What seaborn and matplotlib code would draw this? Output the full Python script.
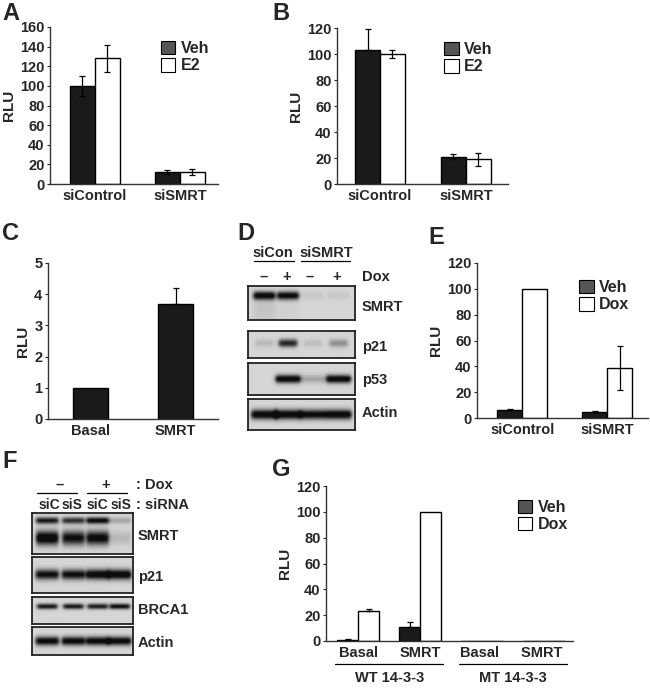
import numpy as np
import pandas as pd
import matplotlib
matplotlib.use("Agg")
import matplotlib.pyplot as plt
from matplotlib.patches import Patch
import seaborn as sns

sns.set_theme(style="ticks")
plt.rcParams["font.family"] = ["Liberation Sans", "DejaVu Sans"]
plt.rcParams["font.weight"] = "bold"
plt.rcParams["axes.labelweight"] = "bold"

# ---- data ----
a_groups = ["siControl", "siSMRT"]
a_veh = [100, 12]
a_e2 = [128, 12]
a_veh_err = [10, 2]
a_e2_err = [14, 3]

b_groups = ["siControl", "siSMRT"]
b_veh = [103, 21]
b_e2 = [100, 19]
b_veh_err = [16, 2]
b_e2_err = [3, 5]

c_groups = ["Basal", "SMRT"]
c_vals = [1.0, 3.7]
c_err = [0, 0.5]

e_groups = ["siControl", "siSMRT"]
e_veh = [6, 5]
e_dox = [100, 39]
e_veh_err = [1.2, 0.5]
e_dox_err = [0, 17]

g_groups = ["Basal", "SMRT", "Basal ", "SMRT "]
g_veh = [1, 11, 0.3, 0.3]
g_dox = [23, 100, 0.3, 0.3]
g_veh_err = [0.3, 4, 0, 0]
g_dox_err = [2, 0, 0, 0]

# blot band intensities per lane (0 = none, 1 = saturated)
d_smrt = [0.95, 0.9, 0.06, 0.06]
d_p21 = [0.12, 0.75, 0.1, 0.3]
d_p53 = [0.0, 0.95, 0.2, 0.95]
d_actin = [0.95, 0.95, 0.9, 0.95]
f_smrt_upper = [0.8, 0.7, 0.9, 0.2]
f_smrt_lower = [1.0, 0.85, 0.9, 0.12]
f_p21 = [0.85, 0.85, 0.95, 0.95]
f_brca1 = [0.8, 0.8, 0.78, 0.85]
f_actin = [0.9, 0.9, 0.9, 0.9]

W, H = 650, 689
FS = 10.5
fig = plt.figure(figsize=(6.5, 6.89), dpi=100)


def add_ax(x0, x1, y0, y1):
    return fig.add_axes([x0 / W, 1 - y1 / H, (x1 - x0) / W, (y1 - y0) / H])


def bar_panel(ax, groups, series, names, colors, errs, width, ylim, step, xlim,
              ylabel="RLU", upper_only=None):
    rows = []
    for name, vals in zip(names, series):
        for g, v in zip(groups, vals):
            rows.append({"group": g, "cond": name, "value": v})
    df = pd.DataFrame(rows)
    sns.barplot(data=df, x="group", y="value", hue="cond", order=groups,
                hue_order=names, palette=dict(zip(names, colors)),
                edgecolor="black", linewidth=1.0, width=width, errorbar=None,
                legend=False, ax=ax, saturation=1)
    bar_sets = list(ax.containers)
    for i, cont in enumerate(bar_sets):
        for j, bar in enumerate(cont):
            e = errs[i][j]
            if e <= 0:
                continue
            xc = bar.get_x() + bar.get_width() / 2
            h = bar.get_height()
            lo = 0 if (upper_only and upper_only[i][j]) else e
            ax.errorbar(xc, h, yerr=[[lo], [e]], fmt="none", ecolor="black",
                        elinewidth=0.9, capsize=2.5, capthick=0.9)
    style_ax(ax, ylim, step, xlim, ylabel)


def style_ax(ax, ylim, step, xlim, ylabel):
    ax.set_ylim(*ylim)
    ax.set_yticks(np.arange(ylim[0], ylim[1] + step / 2, step))
    ax.set_xlim(*xlim)
    ax.set_xlabel("")
    ax.set_ylabel(ylabel, fontsize=FS + 0.5, fontweight="bold", labelpad=3)
    sns.despine(ax=ax)
    ax.spines["left"].set_linewidth(1.0)
    ax.spines["bottom"].set_linewidth(1.0)
    ax.spines["left"].set_color("#333333")
    ax.spines["bottom"].set_color("#333333")
    ax.tick_params(axis="y", length=2.5, width=0.8, labelsize=FS, pad=1.5)
    ax.tick_params(axis="x", length=0, labelsize=FS, pad=3.5)
    for t in ax.get_yticklabels() + ax.get_xticklabels():
        t.set_fontweight("bold")


def legend(ax, names, x, y):
    handles = [Patch(facecolor="#555555", edgecolor="black", linewidth=0.8),
               Patch(facecolor="white", edgecolor="black", linewidth=0.8)]
    lg = ax.legend(handles, names, loc="upper left", bbox_to_anchor=(x, y),
                   frameon=False, handlelength=0.9, handleheight=0.9,
                   handletextpad=0.35, labelspacing=0.12, borderaxespad=0,
                   prop={"size": FS + 1, "weight": "bold"})
    return lg


def letter(x, y, s):
    fig.text(x / W, 1 - y / H, s, fontsize=17, fontweight="bold", va="center", ha="left")


BLACK = "#1a1a1a"

# ---- A ----
axA = add_ax(50, 218, 27, 184)
bar_panel(axA, a_groups, [a_veh, a_e2], ["Veh", "E2"], [BLACK, "white"],
          [a_veh_err, a_e2_err], 0.59, (0, 160), 20, (-0.53, 1.45))
legend(axA, ["Veh", "E2"], 0.62, 0.95)
letter(2, 14, "A")

# ---- B ----
axB = add_ax(337, 508, 28, 184)
bar_panel(axB, b_groups, [b_veh, b_e2], ["Veh", "E2"], [BLACK, "white"],
          [b_veh_err, b_e2_err], 0.58, (0, 120), 20, (-0.5, 1.49),
          upper_only=[[True, False], [False, False]])
legend(axB, ["Veh", "E2"], 0.59, 0.95)
letter(272, 14, "B")

# ---- C ----
axC = add_ax(48, 218, 263, 419)
dfc = pd.DataFrame({"group": c_groups, "value": c_vals})
sns.barplot(data=dfc, x="group", y="value", color=BLACK, edgecolor="black",
            width=0.41, errorbar=None, ax=axC, saturation=1)
for bar, e in zip(list(axC.patches), c_err):
    if e > 0:
        axC.errorbar(bar.get_x() + bar.get_width() / 2, bar.get_height(),
                     yerr=[[0], [e]], fmt="none", ecolor="black",
                     elinewidth=0.9, capsize=2.5, capthick=0.9)
style_ax(axC, (0, 5), 1, (-0.5, 1.5), "RLU")
letter(2, 234, "C")

# ---- E ----
axE = add_ax(477, 648, 263, 418)
bar_panel(axE, e_groups, [e_veh, e_dox], ["Veh", "Dox"], [BLACK, "white"],
          [e_veh_err, e_dox_err], 0.59, (0, 120), 20, (-0.53, 1.48),
          upper_only=[[True, True], [False, False]])
legend(axE, ["Veh", "Dox"], 0.56, 0.93)
letter(428, 238, "E")

# ---- G ----
axG = add_ax(326, 573, 486, 641)
bar_panel(axG, g_groups, [g_veh, g_dox], ["Veh", "Dox"], [BLACK, "white"],
          [g_veh_err, g_dox_err], 0.67, (0, 120), 20, (-0.52, 3.47),
          upper_only=[[True, True, True, True], [True, True, True, True]])
legend(axG, ["Veh", "Dox"], 0.75, 0.95)
for (i0, i1), lab in zip([(0, 1), (2, 3)], ["WT 14-3-3", "MT 14-3-3"]):
    axG.plot([i0 - 0.37, i1 + 0.37], [-0.15, -0.15], color="black", lw=0.9,
             transform=axG.get_xaxis_transform(), clip_on=False)
    axG.text((i0 + i1) / 2, -0.24, lab, ha="center", va="center", fontsize=FS,
             fontweight="bold", transform=axG.get_xaxis_transform())
letter(272, 470, "G")


# ---- blots ----
def blot(ax, bands, lanes, lane_w, smear=None):
    ny, nx = 80, 240
    yy, xx = np.mgrid[0:1:ny * 1j, 0:1:nx * 1j]
    img = np.full((ny, nx), 0.17)
    for y0, sy, vals in bands:
        for lx, v in zip(lanes, vals):
            hx = 0.5 * (np.tanh((xx - (lx - lane_w / 2)) / 0.02)
                        - np.tanh((xx - (lx + lane_w / 2)) / 0.02))
            img += v * hx * np.exp(-((yy - y0) / sy) ** 2)
    if smear is not None:
        for lx, v in zip(lanes, smear):
            hx = 0.5 * (np.tanh((xx - (lx - lane_w / 2)) / 0.03)
                        - np.tanh((xx - (lx + lane_w / 2)) / 0.03))
            img += v * hx * np.clip(yy - 0.3, 0, 1) * np.exp(-(yy - 0.3) * 2.5)
    ax.imshow(np.clip(img, 0, 1), cmap="gray_r", vmin=0, vmax=1.05,
              aspect="auto", extent=(0, 1, 1, 0), interpolation="bilinear")
    ax.set_xticks([])
    ax.set_yticks([])
    for s in ax.spines.values():
        s.set_visible(True)
        s.set_linewidth(1.3)
        s.set_color("#222222")


d_lanes = [0.15, 0.37, 0.6, 0.84]
blot(add_ax(248, 355, 286, 320), [(0.3, 0.12, d_smrt)], d_lanes, 0.2,
     smear=[0.5, 0.15, 0, 0])
blot(add_ax(248, 355, 331, 358), [(0.45, 0.15, d_p21)], d_lanes, 0.17)
blot(add_ax(248, 355, 363, 395), [(0.5, 0.13, d_p53)], d_lanes, 0.23)
blot(add_ax(248, 355, 399, 430), [(0.5, 0.16, d_actin)], d_lanes, 0.24)

fig.text(273 / W, 1 - 253 / H, "siCon", fontsize=FS, fontweight="bold", ha="center", va="center")
fig.text(326 / W, 1 - 253 / H, "siSMRT", fontsize=FS, fontweight="bold", ha="center", va="center")
for x0, x1 in [(254, 294), (301, 350)]:
    fig.add_artist(plt.Line2D([x0 / W, x1 / W], [1 - 261 / H] * 2, color="black", lw=0.9))
for x, s in zip([264, 287, 310, 337], ["–", "+", "–", "+"]):
    fig.text(x / W, 1 - 277 / H, s, fontsize=FS, fontweight="bold", ha="center", va="center")
for y, s in zip([277, 307, 347, 380, 413], ["Dox", "SMRT", "p21", "p53", "Actin"]):
    fig.text(362 / W, 1 - y / H, s, fontsize=FS, fontweight="bold", ha="left", va="center")
letter(237, 234, "D")

f_lanes = [0.15, 0.41, 0.65, 0.87]
blot(add_ax(32, 133, 513, 554),
     [(0.2, 0.08, f_smrt_upper), (0.62, 0.17, f_smrt_lower)], f_lanes, 0.22)
blot(add_ax(32, 133, 557, 593), [(0.5, 0.14, f_p21)], f_lanes, 0.23)
blot(add_ax(32, 133, 597, 624), [(0.37, 0.1, f_brca1)], f_lanes, 0.2)
blot(add_ax(32, 133, 627, 655), [(0.5, 0.16, f_actin)], f_lanes, 0.23)

for x, s in zip([60, 106], ["–", "+"]):
    fig.text(x / W, 1 - 485 / H, s, fontsize=FS, fontweight="bold", ha="center", va="center")
for x0, x1 in [(37, 77), (87, 127)]:
    fig.add_artist(plt.Line2D([x0 / W, x1 / W], [1 - 493 / H] * 2, color="black", lw=0.9))
for x, s in zip([49, 72, 97, 121], ["siC", "siS", "siC", "siS"]):
    fig.text(x / W, 1 - 505 / H, s, fontsize=FS - 0.5, fontweight="bold", ha="center", va="center")
fig.text(136 / W, 1 - 485 / H, ": Dox", fontsize=FS, fontweight="bold", ha="left", va="center")
fig.text(136 / W, 1 - 505 / H, ": siRNA", fontsize=FS, fontweight="bold", ha="left", va="center")
for y, s in zip([536, 577, 610, 643], ["SMRT", "p21", "BRCA1", "Actin"]):
    fig.text(138 / W, 1 - y / H, s, fontsize=FS, fontweight="bold", ha="left", va="center")
letter(2, 462, "F")

fig.savefig("out.png", dpi=100, facecolor="white")
